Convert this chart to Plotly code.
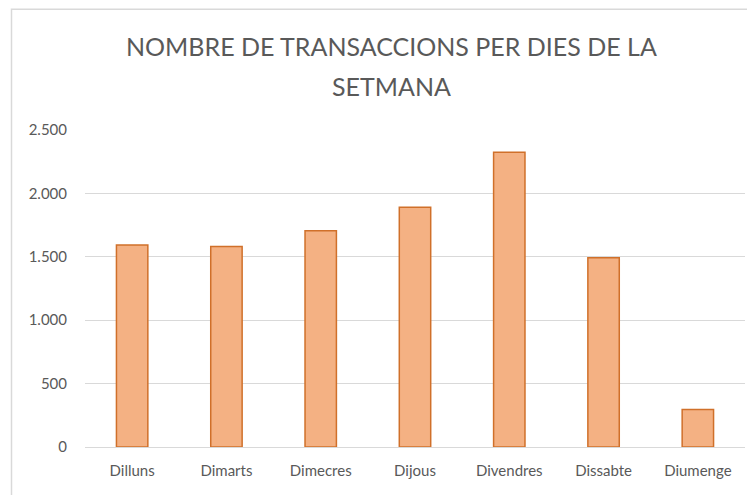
import plotly.graph_objects as go

days = ["Dilluns", "Dimarts", "Dimecres", "Dijous", "Divendres", "Dissabte", "Diumenge"]
transactions = [1594, 1581, 1705, 1891, 2324, 1492, 295]
y_ticks = [0, 500, 1000, 1500, 2000, 2500]
title_lines = ["NOMBRE DE TRANSACCIONS PER DIES DE LA", "SETMANA"]

# page body adds an 8px offset; compensate
OFF = 8
W, H = 755, 495
L = 85 - OFF
T = 130 - OFF
R = W - (745 - OFF)
B = H - (447.5 - OFF)
pw, ph = W - L - R, H - T - B


def px_x(sx):
    return (sx - OFF - L) / pw


def px_y(sy):
    return (H - B - (sy - OFF)) / ph


fig = go.Figure(go.Bar(
    x=days, y=transactions,
    marker=dict(color="#F4B183", line=dict(color="#D0702A", width=1.5)),
))

font_name = "Lato, Open Sans, sans-serif"

annotations = []
for line, sy in zip(title_lines, [46, 86]):
    annotations.append(dict(
        text=line, xref="paper", yref="paper",
        x=px_x(391), y=px_y(sy), xanchor="center", yanchor="middle",
        showarrow=False,
        font=dict(family=font_name, size=25, color="#595959"),
    ))

fig.update_layout(
    width=W, height=H,
    margin=dict(l=L, r=R, t=T, b=B),
    paper_bgcolor="white", plot_bgcolor="white",
    separators=",.",
    bargap=0.667,
    showlegend=False,
    annotations=annotations,
    xaxis=dict(
        showgrid=False, showline=True, linecolor="#D9D9D9", linewidth=1,
        tickfont=dict(family=font_name, size=15, color="#595959"),
        ticks="", ticklabelstandoff=10,
    ),
    yaxis=dict(
        range=[0, 2500], tickvals=y_ticks, tickformat=",d",
        showgrid=True, gridcolor="#D9D9D9", gridwidth=1,
        zeroline=False, showline=False,
        tickfont=dict(family=font_name, size=15, color="#595959"),
        ticks="outside", ticklen=14, tickcolor="white",
    ),
    shapes=[dict(
        type="rect", xref="paper", yref="paper",
        x0=px_x(11.5), x1=px_x(W + 30),
        y0=px_y(H + 30), y1=px_y(OFF + 1),
        line=dict(color="#D9D9D9", width=1.5), fillcolor="rgba(0,0,0,0)",
        layer="below",
    )],
)

fig.write_html("out.html")
